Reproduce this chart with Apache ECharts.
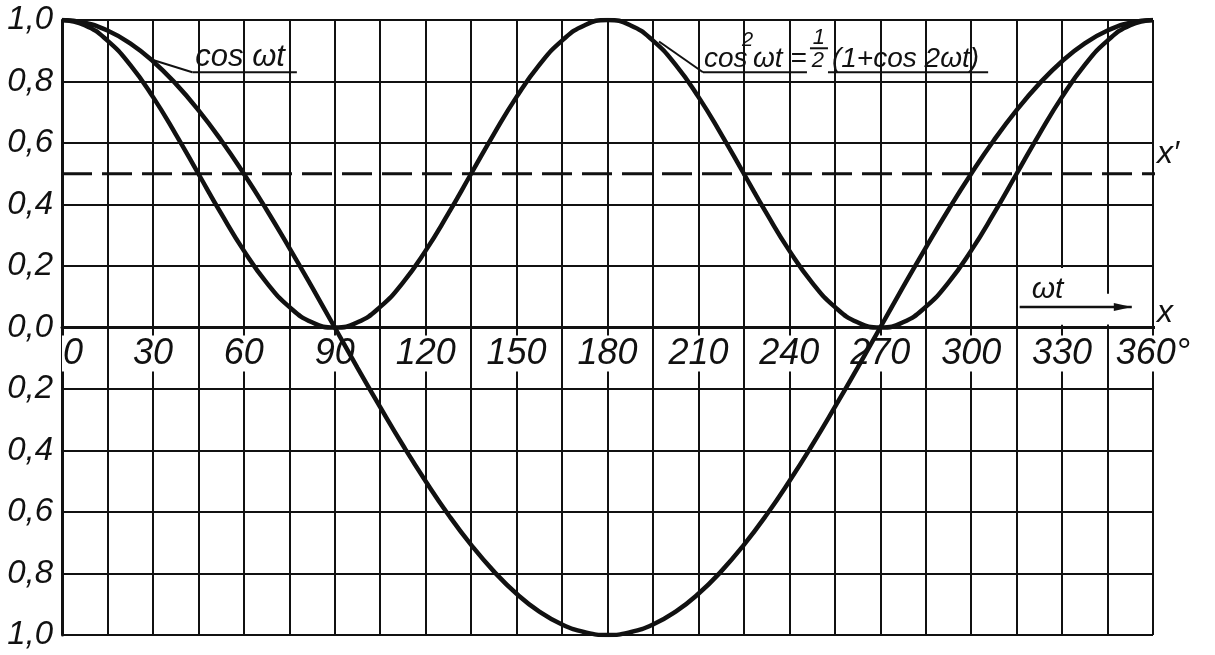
<!DOCTYPE html>
<html>
<head>
<meta charset="utf-8">
<script src="https://cdn.jsdelivr.net/npm/echarts@6/dist/echarts.min.js"></script>
<style>
  html, body { margin: 0; background: #fff; }
  #main { width: 1215px; height: 655px; }
</style>
</head>
<body>
<div id="main"></div>
<script>
// values, every 7.5 degrees
var angles = [
  0, 7.5, 15, 22.5, 30, 37.5, 45, 52.5, 60, 67.5, 75, 82.5,
  90, 97.5, 105, 112.5, 120, 127.5, 135, 142.5, 150, 157.5, 165, 172.5,
  180, 187.5, 195, 202.5, 210, 217.5, 225, 232.5, 240, 247.5, 255, 262.5,
  270, 277.5, 285, 292.5, 300, 307.5, 315, 322.5, 330, 337.5, 345, 352.5, 360
];
var cosValues = [
  1, 0.991, 0.966, 0.924, 0.866, 0.793, 0.707, 0.609, 0.5, 0.383, 0.259, 0.131,
  0, -0.131, -0.259, -0.383, -0.5, -0.609, -0.707, -0.793, -0.866, -0.924, -0.966, -0.991,
  -1, -0.991, -0.966, -0.924, -0.866, -0.793, -0.707, -0.609, -0.5, -0.383, -0.259, -0.131,
  0, 0.131, 0.259, 0.383, 0.5, 0.609, 0.707, 0.793, 0.866, 0.924, 0.966, 0.991, 1
];
var cos2Values = [
  1, 0.983, 0.933, 0.854, 0.75, 0.629, 0.5, 0.371, 0.25, 0.146, 0.067, 0.017,
  0, 0.017, 0.067, 0.146, 0.25, 0.371, 0.5, 0.629, 0.75, 0.854, 0.933, 0.983,
  1, 0.983, 0.933, 0.854, 0.75, 0.629, 0.5, 0.371, 0.25, 0.146, 0.067, 0.017,
  0, 0.017, 0.067, 0.146, 0.25, 0.371, 0.5, 0.629, 0.75, 0.854, 0.933, 0.983, 1
];
var xLabelStep = 30;      // labelled every 30 deg, grid every 15
var meanLevel = 0.5;      // dashed line x'
var axisEnd = 374;        // x axis and x' run a bit past 360

var INK = '#111';
var FONT = '"Liberation Sans", Arial, sans-serif';

var chart = echarts.init(document.getElementById('main'));

function pairs(vals) {
  return angles.map(function (a, i) { return [a, vals[i]]; });
}

chart.setOption({
  animation: false,
  backgroundColor: '#fff',
  grid: { left: 62, right: 62, top: 20, bottom: 20, outerBoundsMode: 'none', containLabel: false },
  xAxis: {
    type: 'value',
    min: 0, max: 360, interval: 15,
    position: 'bottom',
    offset: -307.5,         // axis (with its labels) sits on the 0,0 line
    axisLine: { onZero: false, lineStyle: { color: INK, width: 3 } },
    axisTick: { show: false },
    axisLabel: {
      color: INK, fontFamily: FONT, fontStyle: 'italic', fontSize: 36,
      margin: 8, backgroundColor: '#fff', padding: [0, 1],
      alignMinLabel: 'left',
      formatter: function (v) {
        if (v % xLabelStep !== 0) return '';
        return v === 360 ? '360°' : String(v);
      }
    },
    splitLine: { show: true, lineStyle: { color: INK, width: 2 } }
  },
  yAxis: {
    type: 'value',
    min: -1, max: 1, interval: 0.2,
    axisLine: { show: true, lineStyle: { color: INK, width: 3 } },
    axisTick: { show: false },
    axisLabel: {
      color: INK, fontFamily: FONT, fontStyle: 'italic', fontSize: 33, margin: 9,
      formatter: function (v) { return Math.abs(v).toFixed(1).replace('.', ','); }
    },
    splitLine: { show: true, lineStyle: { color: INK, width: 2 } }
  },
  series: [
    {
      type: 'line', data: pairs(cosValues), smooth: true, showSymbol: false,
      lineStyle: { color: INK, width: 4.5 }, z: 5
    },
    {
      type: 'line', data: pairs(cos2Values), smooth: true, showSymbol: false,
      lineStyle: { color: INK, width: 4.5 }, z: 5
    },
    {
      type: 'line', data: [[0, meanLevel], [axisEnd, meanLevel]], showSymbol: false, clip: false,
      lineStyle: { color: INK, width: 3, type: [30, 10] }, z: 4
    },
    {
      type: 'line', data: [[360, 0], [axisEnd, 0]], showSymbol: false, clip: false,
      lineStyle: { color: INK, width: 3 }, z: 4
    }
  ]
});

function px(x, y) { return chart.convertToPixel({ gridIndex: 0 }, [x, y]); }
function seg(a, b, w) {
  return { type: 'line', z: 60, shape: { x1: a[0], y1: a[1], x2: b[0], y2: b[1] },
           style: { stroke: INK, lineWidth: w || 2 } };
}
function txt(s, x, y, size, align, valign) {
  return { type: 'text', z: 60, x: x, y: y,
           style: { text: s, fill: INK, font: 'italic ' + size + 'px ' + FONT,
                    align: align || 'left', textAlign: align || 'left',
                    verticalAlign: valign || 'bottom', textVerticalAlign: valign || 'bottom' } };
}

var g = [];

// white box behind the wt arrow
var b0 = px(315, 0), b1 = px(360, 0.11), c330a = px(330, 0.2);
g.push({ type: 'rect', z: 50, shape: { x: b0[0] + 2, y: b1[1], width: b1[0] - b0[0] - 4, height: b0[1] - b1[1] - 3 },
         style: { fill: '#fff' } });
g.push({ type: 'rect', z: 50, shape: { x: c330a[0] - 3, y: c330a[1] + 2, width: 6, height: b0[1] - c330a[1] - 5 },
         style: { fill: '#fff' } });

// cos wt label
var c1 = px(30, 0.87), u1 = px(43, 0.83), u1e = px(77.5, 0.83);
g.push(seg(c1, u1), seg(u1, u1e));
g.push(txt('cos ωt', u1[0] + 3, u1[1] + 1, 31));

// cos^2 wt label
var c2 = px(197, 0.93), u2 = px(211.5, 0.83), u2e = px(305.6, 0.83);
var ux = u2[0], uy = u2[1];
g.push(seg(c2, u2));
g.push(seg([ux, uy], [ux + 104, uy]), seg([ux + 125, uy], [u2e[0], uy]));
g.push(txt('cos', ux + 1, uy + 1, 28));
g.push(txt('2', ux + 39, uy - 22, 20));
g.push(txt('ωt =', ux + 50, uy + 1, 28));
g.push(txt('1', ux + 116, uy - 23, 22, 'center'));
g.push(seg([ux + 107, uy - 24], [ux + 125, uy - 24], 2));
g.push(txt('2', ux + 115, uy - 22, 22, 'center', 'top'));
g.push(txt('(1+cos 2ωt)', ux + 129, uy + 1, 28));

// x' and x
var m = px(360, meanLevel), z0 = px(360, 0);
g.push(txt('x′', m[0] + 4, m[1] - 4, 32));
g.push(txt('x', z0[0] + 4, z0[1] + 2, 32));

// wt arrow
var a0 = px(316, 0.067), a1 = px(353, 0.067);
g.push(seg(a0, a1, 2.5));
g.push({ type: 'polygon', z: 60, shape: { points: [[a1[0], a1[1]], [a1[0] - 18, a1[1] - 4], [a1[0] - 18, a1[1] + 4]] },
         style: { fill: INK } });
g.push(txt('ωt', a0[0] + 12, a0[1] - 2, 30));

chart.setOption({ graphic: g });
</script>
</body>
</html>
